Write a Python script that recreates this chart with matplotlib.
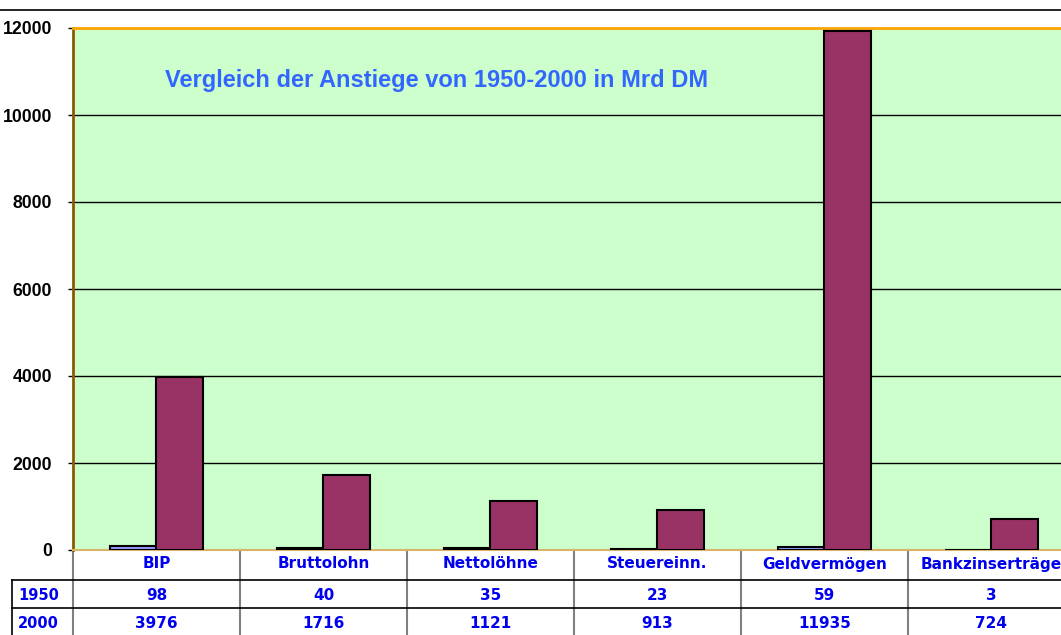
import os
import matplotlib.pyplot as plt
import matplotlib.font_manager as fm
from matplotlib.lines import Line2D
from matplotlib.transforms import blended_transform_factory

categories = ["BIP", "Bruttolohn", "Nettolöhne", "Steuereinn.", "Geldvermögen", "Bankzinserträge"]
series_names = ["1950", "2000"]
values_1950 = [98, 40, 35, 23, 59, 3]
values_2000 = [3976, 1716, 1121, 913, 11935, 724]
y_ticks = [0, 2000, 4000, 6000, 8000, 10000, 12000]


def arial_bold(size):
    # pick the regular-width Liberation Sans Bold file (family lookup can land on Narrow)
    files = [f for f in fm.findSystemFonts() if os.path.basename(f) == "LiberationSans-Bold.ttf"]
    if files:
        return fm.FontProperties(fname=files[0], size=size)
    return fm.FontProperties(family="DejaVu Sans", weight="bold", size=size)


W, H = 1061, 635
fig = plt.figure(figsize=(W / 100, H / 100), dpi=100)

# plot area: x 73..1075 px (runs past the right edge), y 28..550 px
ax = fig.add_axes([73 / W, (H - 550) / H, 1002 / W, 522 / H])
ax.set_facecolor("#CCFFCC")

x = list(range(len(categories)))
bw = 0.28
ax.bar([i - bw / 2 for i in x], values_1950, width=bw, color="#9999FF",
       edgecolor="black", linewidth=1.5, zorder=3)
ax.bar([i + bw / 2 for i in x], values_2000, width=bw, color="#993366",
       edgecolor="black", linewidth=1.5, zorder=3)

ax.set_xlim(-0.5, len(categories) - 0.5)
ax.set_ylim(0, 12000)
ax.set_yticks(y_ticks)
ax.set_yticklabels([str(t) for t in y_ticks])
tick_prop = arial_bold(12.7)
for lbl in ax.get_yticklabels():
    lbl.set_fontproperties(tick_prop)
ax.set_xticks([])
ax.tick_params(axis="y", direction="out", length=3.6, width=1, pad=11.5)
ax.yaxis.grid(True, color="black", linewidth=1)
ax.set_axisbelow(True)

ax.spines["left"].set_color("#8B5A00")
ax.spines["left"].set_linewidth(2)
ax.spines["top"].set_color("#FFA500")
ax.spines["top"].set_linewidth(2)
ax.spines["bottom"].set_color("#D9B36A")
ax.spines["bottom"].set_linewidth(1.5)
ax.spines["right"].set_visible(False)

fig.text(165 / W, (H - 80) / H, "Vergleich der Anstiege von 1950-2000 in Mrd DM",
         fontproperties=arial_bold(17), color="#3366FF", va="center", ha="left")

# top rule
fig.add_artist(Line2D([0, 1], [(H - 10) / H] * 2, color="black", linewidth=1.2))

# data table under the plot
tr = blended_transform_factory(ax.transData, fig.transFigure)
fy = lambda py: (H - py) / H
for i in range(len(categories) + 1):
    ax.add_line(Line2D([i - 0.5, i - 0.5], [fy(550), 0], transform=tr,
                       color="#808080", linewidth=1.5, clip_on=False))
for py in (580, 608):
    fig.add_artist(Line2D([12 / W, 1], [fy(py)] * 2, color="black", linewidth=1.2))
fig.add_artist(Line2D([12 / W, 12 / W], [fy(580), 0], color="black", linewidth=1.2))

blue = "#0000EE"
tfont = dict(fontsize=11, fontweight="bold", color=blue, va="center", ha="center",
             family="DejaVu Sans")
for i, cat in enumerate(categories):
    ax.text(i, fy(564), cat, transform=tr, clip_on=False, **tfont)
    ax.text(i, fy(595), str(values_1950[i]), transform=tr, clip_on=False, **tfont)
    ax.text(i, fy(623), str(values_2000[i]), transform=tr, clip_on=False, **tfont)
for name, py in zip(series_names, (595, 623)):
    fig.text(18 / W, fy(py), name, fontsize=10.5, fontweight="bold", color=blue,
             va="center", ha="left", family="DejaVu Sans")

fig.savefig("out.png", dpi=100)
